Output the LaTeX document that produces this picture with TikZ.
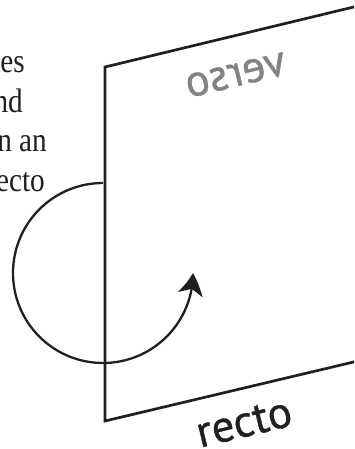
\documentclass[tikz,border=0pt]{standalone}
\usepackage{fontspec}
\setmainfont{Liberation Serif}[FakeStretch=0.86]
\newfontfamily\labelfont{PT Sans}[FakeBold=0.8]
\usepackage{graphicx}
\usetikzlibrary{arrows.meta,bending}
\definecolor{ink}{HTML}{231F20}
\definecolor{greytext}{HTML}{808285}
\begin{document}
\begin{tikzpicture}[x=1pt,y=1pt,
  edge/.style={draw=ink,line width=2.7pt,line join=miter},
  turn/.style={draw=ink,line width=2.3pt,-{Stealth[length=22pt,width=25pt,inset=6pt,bend]}},
  para/.style={anchor=base east,font=\fontsize{34}{40}\selectfont,text=ink,inner sep=0pt},
  side/.style={font=\labelfont\fontsize{45}{50}\selectfont,inner sep=0pt,rotate=13.55}]
\useasboundingbox (0,0) rectangle (354,449);
\clip (0,0) rectangle (354,449);
\coordinate (tl) at (105,382);
\coordinate (tr) at (362,444);
\coordinate (bl) at (105,28);
\coordinate (br) at (362,89);
\draw[edge] (tr) -- (tl) -- (bl) -- (br);
\node[para] (l1) at (25,376) {tes};
\node[para] (l2) at (23,336) {and};
\node[para] (l3) at (47,297) {n an};
\node[para] (l4) at (45,257) {recto};
\coordinate (arcstart) at (103,266);
\draw[turn] (arcstart) arc[start angle=90,end angle=360,radius=90];
\node[side,text=greytext] (verso) at (236,374) {\reflectbox{verso}};
\node[side,text=ink] (recto) at (244,26) {recto};
\end{tikzpicture}
\end{document}
